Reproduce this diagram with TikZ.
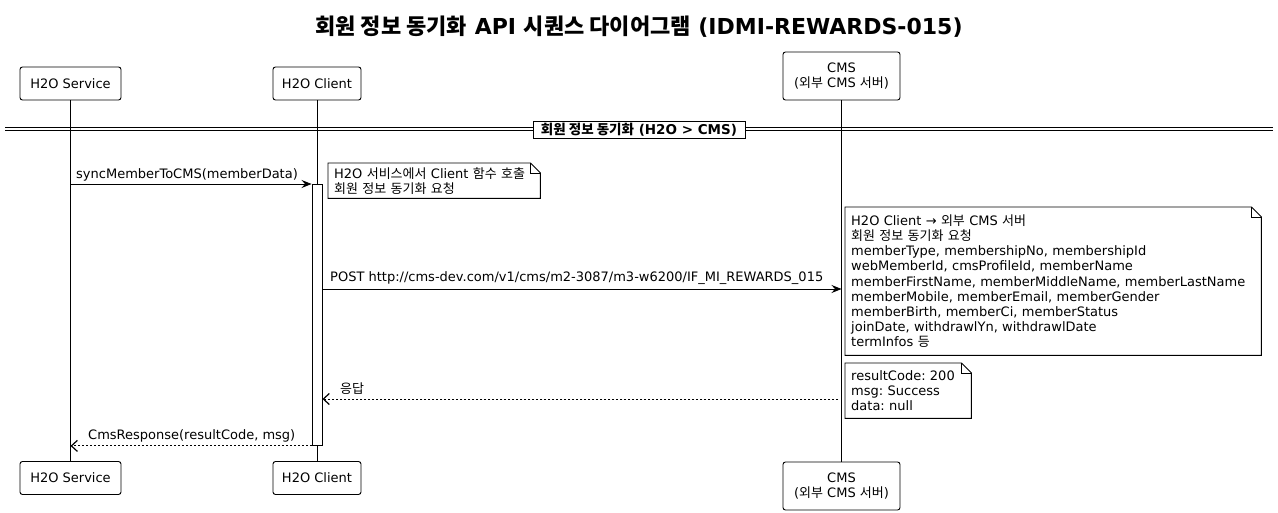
\documentclass[tikz,border=0pt]{standalone}
\usepackage{fontspec}
\setmainfont{DejaVu Sans}
\newfontfamily\krfont{Noto Sans CJK KR}
\newcommand\KR[1]{{\krfont #1}}
\usetikzlibrary{arrows.meta}
\frenchspacing
\begin{document}
\begin{tikzpicture}[x=1pt,y=-1pt,
  txt/.style={font=\fontsize{13}{15.2}\selectfont},
  part/.style={txt,draw,rounded corners=2.5pt,line width=0.9pt,fill=white,align=center,inner sep=0pt},
  life/.style={line width=0.9pt},
  actbox/.style={draw,fill=white,line width=0.9pt,inner sep=0pt,minimum width=10pt},
  msg/.style={line width=0.9pt,-{Stealth[length=10pt,width=8pt,inset=3.5pt]}},
  ret/.style={line width=0.9pt,dash pattern=on 2pt off 2pt,-{Straight Barb[length=6pt,width=11pt,line width=1.2pt]}},
  lbl/.style={txt,inner sep=0pt},
  notebox/.style={txt,align=left,inner xsep=6pt,inner ysep=0pt,anchor=north west},
  noteline/.style={line width=0.9pt,line join=miter},
  sepline/.style={line width=0.8pt}
]
\useasboundingbox (0,0) rectangle (1278,513);

% title
\node[font=\fontsize{22}{26}\selectfont\bfseries] (title) at (639,27)
  {\KR{회원 정보 동기화} API \KR{시퀀스 다이어그램} (IDMI-REWARDS-015)};

% participants
\node[part,minimum width=101pt,minimum height=33pt] (svcT) at (70.5,83.5) {H2O Service};
\node[part,minimum width=88pt,minimum height=33pt] (cliT) at (317,83.5) {H2O Client};
\node[part,minimum width=117pt,minimum height=48pt] (cmsT) at (841.5,76) {CMS\\(\KR{외부} CMS \KR{서버})};
\node[part,minimum width=101pt,minimum height=33pt] (svcB) at (70.5,478) {H2O Service};
\node[part,minimum width=88pt,minimum height=33pt] (cliB) at (317,478) {H2O Client};
\node[part,minimum width=117pt,minimum height=48pt] (cmsB) at (841.5,486) {CMS\\(\KR{외부} CMS \KR{서버})};

% lifelines
\draw[life] (svcT) -- (svcB);
\draw[life] (cliT) -- (cliB);
\draw[life] (cmsT) -- (cmsB);

% separator
\coordinate (sepL) at (5,129);
\coordinate (sepR) at (1273,129);
\draw[sepline] ([yshift=1.5pt]sepL) -- ([yshift=1.5pt]sepR);
\draw[sepline] ([yshift=-1.5pt]sepL) -- ([yshift=-1.5pt]sepR);
\node[draw,fill=white,line width=0.9pt,font=\fontsize{13.5}{15}\selectfont\bfseries,minimum width=212pt,minimum height=17pt,inner sep=0pt] (sep) at (639,129.5)
  {\KR{회원 정보 동기화} (H2O > CMS)};

% activation
\node[actbox,minimum height=261pt,anchor=north] (act) at (317,184) {};

% message 1
\draw[msg] (svcT |- act.north) -- (act.north west);
\node[lbl,anchor=base west] (l1) at (76,179) {syncMemberToCMS(memberData)};

% note 1
\node[notebox,text width=200pt,minimum height=35pt] (n1) at (328,163)
  {H2O \KR{서비스에서} Client \KR{함수 호출}\\\KR{회원 정보 동기화 요청}};
\draw[noteline] (n1.north west) -- ([xshift=-10pt]n1.north east) -- ([yshift=-10pt]n1.north east) -- (n1.south east) -- (n1.south west) -- cycle;
\draw[noteline] ([xshift=-10pt]n1.north east) |- ([yshift=-10pt]n1.north east);

% message 2
\coordinate (p2) at (322,289);
\draw[msg] (p2) -- (cmsT |- p2);
\node[lbl,anchor=base west] (l2) at (330,282) {POST http://cms-dev.com/v1/cms/m2-3087/m3-w6200/IF\_MI\_REWARDS\_015};

% note 2
\node[notebox,text width=404pt,minimum height=148pt] (n2) at (845,207)
  {H2O Client → \KR{외부} CMS \KR{서버}\\
   \KR{회원 정보 동기화 요청}\\
   memberType, membershipNo, membershipId\\
   webMemberId, cmsProfileId, memberName\\
   memberFirstName, memberMiddleName, memberLastName\\
   memberMobile, memberEmail, memberGender\\
   memberBirth, memberCi, memberStatus\\
   joinDate, withdrawlYn, withdrawlDate\\
   termInfos \KR{등}};
\draw[noteline] (n2.north west) -- ([xshift=-10pt]n2.north east) -- ([yshift=-10pt]n2.north east) -- (n2.south east) -- (n2.south west) -- cycle;
\draw[noteline] ([xshift=-10pt]n2.north east) |- ([yshift=-10pt]n2.north east);

% message 3
\coordinate (p3) at (838,399);
\draw[ret] (p3) -- (act.east |- p3);
\node[lbl,anchor=base west] (l3) at (340,393) {\KR{응답}};

% note 3
\node[notebox,text width=114pt,minimum height=55pt] (n3) at (845,363)
  {resultCode: 200\\msg: Success\\data: null};
\draw[noteline] (n3.north west) -- ([xshift=-10pt]n3.north east) -- ([yshift=-10pt]n3.north east) -- (n3.south east) -- (n3.south west) -- cycle;
\draw[noteline] ([xshift=-10pt]n3.north east) |- ([yshift=-10pt]n3.north east);

% message 4
\draw[ret] (act.south west) -- (svcT |- act.south);
\node[lbl,anchor=base west] (l4) at (88,439) {CmsResponse(resultCode, msg)};

\end{tikzpicture}
\end{document}
